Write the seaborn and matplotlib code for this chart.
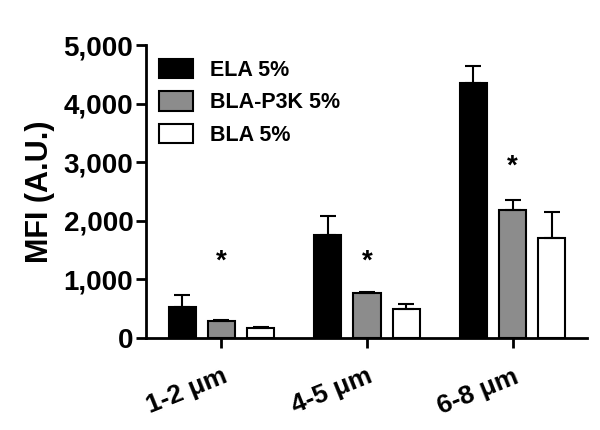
import matplotlib
matplotlib.use("Agg")
import matplotlib.pyplot as plt
import seaborn as sns
import pandas as pd
import numpy as np

categories = ["1-2 \u03bcm", "4-5 \u03bcm", "6-8 \u03bcm"]
series = ["ELA 5%", "BLA-P3K 5%", "BLA 5%"]
ela = [530, 1760, 4360]
bla_p3k = [290, 760, 2190]
bla = [170, 500, 1700]
ela_err = [205, 320, 280]
bla_p3k_err = [15, 30, 160]
bla_err = [15, 80, 455]
star_y = [1300, 1300, 2920]
colors = ["#000000", "#8c8c8c", "#ffffff"]

sns.set_style("ticks")
plt.rcParams['font.family'] = ['Liberation Sans', 'DejaVu Sans']
for k in ["text.color", "axes.labelcolor", "xtick.color", "ytick.color",
          "axes.edgecolor"]:
    plt.rcParams[k] = "black"

rows = []
for s, vals in zip(series, [ela, bla_p3k, bla]):
    for c, v in zip(categories, vals):
        rows.append({"cat": c, "series": s, "val": v})
df = pd.DataFrame(rows)

fig = plt.figure(figsize=(6, 4.3), dpi=100)
ax = fig.add_axes([0.243, 0.214, 0.735, 0.681])

sns.barplot(data=df, x="cat", y="val", hue="series", order=categories,
            hue_order=series, palette=colors, width=0.81, gap=0.31,
            edgecolor="black", linewidth=1.5, ax=ax, errorbar=None,
            saturation=1)

errs = {"ELA 5%": ela_err, "BLA-P3K 5%": bla_p3k_err, "BLA 5%": bla_err}
for cont, s in zip(ax.containers, series):
    for bar, e in zip(cont, errs[s]):
        x = bar.get_x() + bar.get_width() / 2
        h = bar.get_height()
        ax.errorbar(x, h, yerr=[[0], [e]], color="black", capsize=6,
                    elinewidth=1.5, capthick=1.5, zorder=1)

# asterisks above BLA-P3K bars
for bar, y in zip(ax.containers[1], star_y):
    x = bar.get_x() + bar.get_width() / 2
    ax.text(x, y, "*", ha="center", va="center", fontsize=20, fontweight="bold")

ax.set_ylim(0, 5000)
ax.set_xlim(-0.52, 2.51)
ax.set_yticks([0, 1000, 2000, 3000, 4000, 5000])
ax.set_yticklabels(["0", "1,000", "2,000", "3,000", "4,000", "5,000"],
                   fontsize=20, fontweight="bold")
ax.set_xticks(range(len(categories)))
ax.set_xticklabels(categories, fontsize=19, fontweight="bold", rotation=22,
                   ha="right", rotation_mode="anchor")
ax.set_xlabel("")
ax.set_ylabel("MFI (A.U.)", fontsize=22, fontweight="bold", labelpad=6)
for side in ["top", "right"]:
    ax.spines[side].set_visible(False)
for side in ["left", "bottom"]:
    ax.spines[side].set_linewidth(2)
ax.tick_params(axis="both", width=2, length=7, direction="out")
ax.tick_params(axis="y", pad=2)
ax.tick_params(axis="x", pad=12)

leg = ax.legend(loc="upper left", bbox_to_anchor=(-0.015, 1.02), frameon=False,
                prop={"size": 15.5, "weight": "bold"}, handlelength=1.6,
                handleheight=1.0, labelspacing=0.5, handletextpad=0.8)

fig.savefig("out.png", dpi=100)
